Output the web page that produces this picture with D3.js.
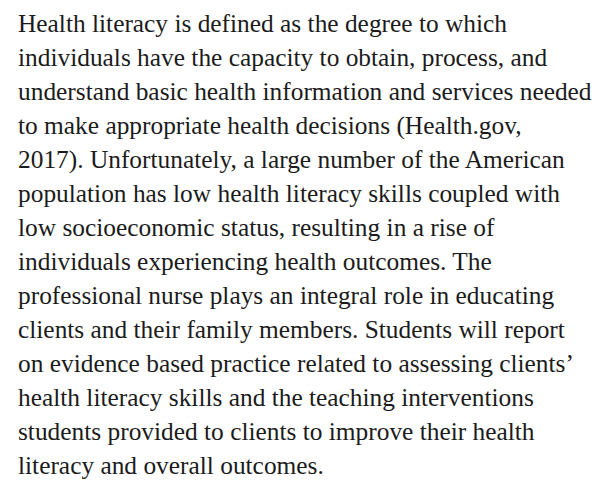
<!DOCTYPE html>
<html>
<head>
<meta charset="utf-8">
<script src="https://cdn.jsdelivr.net/npm/d3@7"></script>
<style>
  body { margin: 0; background: #fff; }
  svg { display: block; }
</style>
</head>
<body>
<svg></svg>
<script>
// TEXT DATA
let lines = [
  "Health literacy is defined as the degree to which",
  "individuals have the capacity to obtain, process, and",
  "understand basic health information and services needed",
  "to make appropriate health decisions (Health.gov,",
  "2017). Unfortunately, a large number of the American",
  "population has low health literacy skills coupled with",
  "low socioeconomic status, resulting in a rise of",
  "individuals experiencing health outcomes. The",
  "professional nurse plays an integral role in educating",
  "clients and their family members. Students will report",
  "on evidence based practice related to assessing clients\u2019",
  "health literacy skills and the teaching interventions",
  "students provided to clients to improve their health",
  "literacy and overall outcomes."
];

// PAGE SETUP
let width = 595, height = 487;
let left = 18, firstBaseline = 32, lineStep = 34;
let widestTarget = 574; // width of the longest line in the reference

let svg = d3.select("svg")
  .attr("width", width)
  .attr("height", height);

let y = d3.scaleLinear()
  .domain([0, lines.length - 1])
  .range([firstBaseline, firstBaseline + lineStep * (lines.length - 1)]);

let textLines = svg.selectAll(".line")
  .data(lines)
  .enter()
  .append("text")
  .attr("class", "line")
  .attr("x", left)
  .attr("y", (d, i) => y(i))
  .attr("fill", "#1b1b1b")
  .style("font-family", "'Liberation Serif', 'Times New Roman', serif")
  .style("font-size", "22px")
  .text(d => d);

// fit font size so the longest line spans like the reference
let longest = d3.max(textLines.nodes(), n => n.getComputedTextLength());
let size = 22 * widestTarget / longest;
textLines.style("font-size", size + "px");
</script>
</body>
</html>
